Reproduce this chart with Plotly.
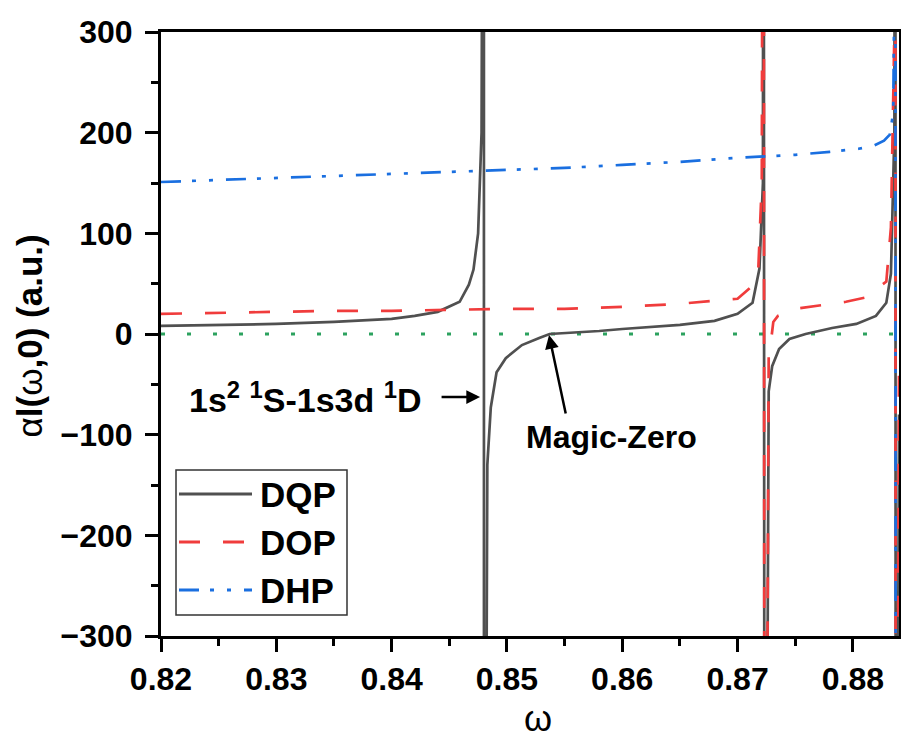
import plotly.graph_objects as go

# ---- data ----
dqp_w = [0.820, 0.825, 0.830, 0.835, 0.840, 0.842, 0.844, 0.8459, 0.8467, 0.8471, 0.8475, 0.8478, 0.84800,
         0.84801, 0.8482, 0.8483, 0.8486, 0.8491, 0.8499, 0.8513, 0.8528, 0.8537, 0.8580, 0.8600, 0.8650, 0.8680,
         0.8700, 0.8713, 0.8719, 0.8722, 0.87225,
         0.87235, 0.8727, 0.8730, 0.8736, 0.8745, 0.8759, 0.8782, 0.8803, 0.8820, 0.8829, 0.8833, 0.8836, 0.88368,
         0.88372, 0.88400]
dqp_a = [8, 9, 10, 12, 15, 18, 22, 32, 49, 64, 100, 200, 1000,
         -1000, -300, -130, -73, -38, -24, -11, -4, 0, 3, 5, 9, 13,
         20, 31, 65, 150, 1000,
         -1000, -57, -32, -15, -5, 0, 6, 10, 18, 31, 60, 200, 1000,
         -1000, -80]

dop_w = [0.820, 0.825, 0.830, 0.835, 0.840, 0.845, 0.850, 0.855, 0.860, 0.865, 0.8685, 0.8700, 0.8713, 0.8718,
         0.8721, 0.87225,
         0.87235, 0.8727, 0.8729, 0.8731, 0.8735, 0.8750, 0.8794, 0.8810, 0.8829, 0.8833, 0.8836, 0.88368,
         0.88372, 0.88400]
dop_a = [20, 21, 22, 23, 23, 24, 25, 25, 27, 30, 33, 35, 48, 65,
         150, 1000,
         -1000, -20, -7, 12, 18, 25, 32, 36, 52, 106, 300, 1000,
         -1000, -20]

dhp_w = [0.820, 0.825, 0.830, 0.835, 0.840, 0.845, 0.850, 0.855, 0.860, 0.865, 0.870, 0.875, 0.878, 0.8805,
         0.8818, 0.8827, 0.8832, 0.8835, 0.8836, 0.88368, 0.88372, 0.88400]
dhp_a = [151, 153, 155, 157, 159, 161, 163, 165, 168, 171, 175, 178, 181, 184,
         187, 192, 198, 220, 350, 1000, -1000, -1000]

zero_w = [0.820, 0.88400]
zero_a = [0, 0]

x_ticks = [0.82, 0.83, 0.84, 0.85, 0.86, 0.87, 0.88]
y_ticks = [-300, -200, -100, 0, 100, 200, 300]
legend_names = ["DQP", "DOP", "DHP"]

FONT = "Liberation Sans, Arial, sans-serif"
C_DQP, C_DOP, C_DHP, C_ZERO = "#505050", "#f03c3c", "#1a6fe0", "#2ca25f"
D_DOP = "21px,23px"
D_DHP = "20px,11px,4px,13px,4px,13px"

fig = go.Figure()
fig.add_trace(go.Scatter(x=zero_w, y=zero_a, mode="lines", showlegend=False,
                         line=dict(color=C_ZERO, width=3, dash="4px,22px")))
fig.add_trace(go.Scatter(x=dqp_w, y=dqp_a, mode="lines", name="DQP", showlegend=False,
                         line=dict(color=C_DQP, width=2.7)))
fig.add_trace(go.Scatter(x=dop_w, y=dop_a, mode="lines", name="DOP", showlegend=False,
                         line=dict(color=C_DOP, width=2.7, dash=D_DOP)))
fig.add_trace(go.Scatter(x=dhp_w, y=dhp_a, mode="lines", name="DHP", showlegend=False,
                         line=dict(color=C_DHP, width=2.7, dash=D_DHP)))

axis_common = dict(showline=True, linecolor="black", linewidth=3, mirror=True,
                   ticks="outside", ticklen=13, tickwidth=2.5, tickcolor="black",
                   showgrid=False, zeroline=False, automargin=False,
                   tickfont=dict(family=FONT, size=32, color="black", weight="bold"))

fig.update_xaxes(range=[0.82, 0.88400], tickvals=x_ticks, ticktext=[f"{v:.2f}" for v in x_ticks],
                 ticklabelstandoff=0,
                 minor=dict(ticks="outside", ticklen=7, tickwidth=2.5, dtick=0.005, tick0=0.82, tickcolor="black"),
                 **axis_common)
fig.update_yaxes(range=[-300, 300], tickvals=y_ticks, ticklabelstandoff=6,
                 minor=dict(ticks="outside", ticklen=7, tickwidth=2.5, dtick=50, tick0=0, tickcolor="black"),
                 **axis_common)

# axis titles
fig.add_annotation(xref="paper", yref="paper", x=-0.178, y=0.497, xanchor="center", yanchor="middle",
                   textangle=-90, showarrow=False,
                   text="α<b>l(</b>ω<b>,0) (a.u.)</b>",
                   font=dict(family=FONT, size=35, color="black"))
fig.add_annotation(xref="paper", yref="paper", x=0.511, y=-0.137, xanchor="center", yanchor="middle",
                   showarrow=False, text="ω", font=dict(family=FONT, size=36, color="black"))

# annotations
fig.add_annotation(x=0.84767, y=-62.6, xref="x", yref="y", ax=-40, ay=0,
                   text="", showarrow=True, arrowhead=2, arrowsize=1.1, arrowwidth=2.5, arrowcolor="black")
fig.add_annotation(x=0.84280, y=-62.6, xref="x", yref="y", xanchor="right", yanchor="middle",
                   text="1s<sup>2</sup> <sup>1</sup>S-1s3d <sup>1</sup>D", showarrow=False,
                   font=dict(family=FONT, size=34, color="black", weight="bold"))
fig.add_annotation(x=0.85365, y=-1, xref="x", yref="y", ax=17, ay=80,
                   text="", showarrow=True, arrowhead=2, arrowsize=1.1, arrowwidth=2.5, arrowcolor="black")
fig.add_annotation(x=0.85910, y=-102, xref="x", yref="y", xanchor="center", yanchor="middle",
                   text="Magic-Zero", showarrow=False,
                   font=dict(family=FONT, size=32, color="black", weight="bold"))

# hand-drawn legend box (plot-area paper coordinates)
L, T, W, H = 161, 32, 738, 604
def px(xp):
    return (xp - L) / W
def py(yp):
    return (T + H - yp) / H

fig.add_shape(type="rect", xref="paper", yref="paper", x0=px(176), x1=px(347), y0=py(615), y1=py(470),
              line=dict(color="#333333", width=1.5), fillcolor="white", layer="above")
leg_styles = [dict(color=C_DQP, width=3), dict(color=C_DOP, width=3, dash=D_DOP), dict(color=C_DHP, width=3, dash=D_DHP)]
leg_y = [494, 542, 590]
for name, st, yy in zip(legend_names, leg_styles, leg_y):
    fig.add_shape(type="line", xref="paper", yref="paper", x0=px(179), x1=px(252), y0=py(yy), y1=py(yy),
                  line=st, layer="above")
    fig.add_annotation(xref="paper", yref="paper", x=px(258), y=py(yy), xanchor="left", yanchor="middle",
                       text=name, showarrow=False,
                       font=dict(family=FONT, size=35, color="black", weight="bold"))

fig.update_layout(
    width=901, height=738,
    margin=dict(l=L, r=901 - L - W, t=T, b=738 - T - H),
    paper_bgcolor="white", plot_bgcolor="white",
    showlegend=False,
)

fig.write_html("out.html", config={"displayModeBar": False},
               post_script="document.body.style.margin='0';document.body.style.overflow='hidden';")
